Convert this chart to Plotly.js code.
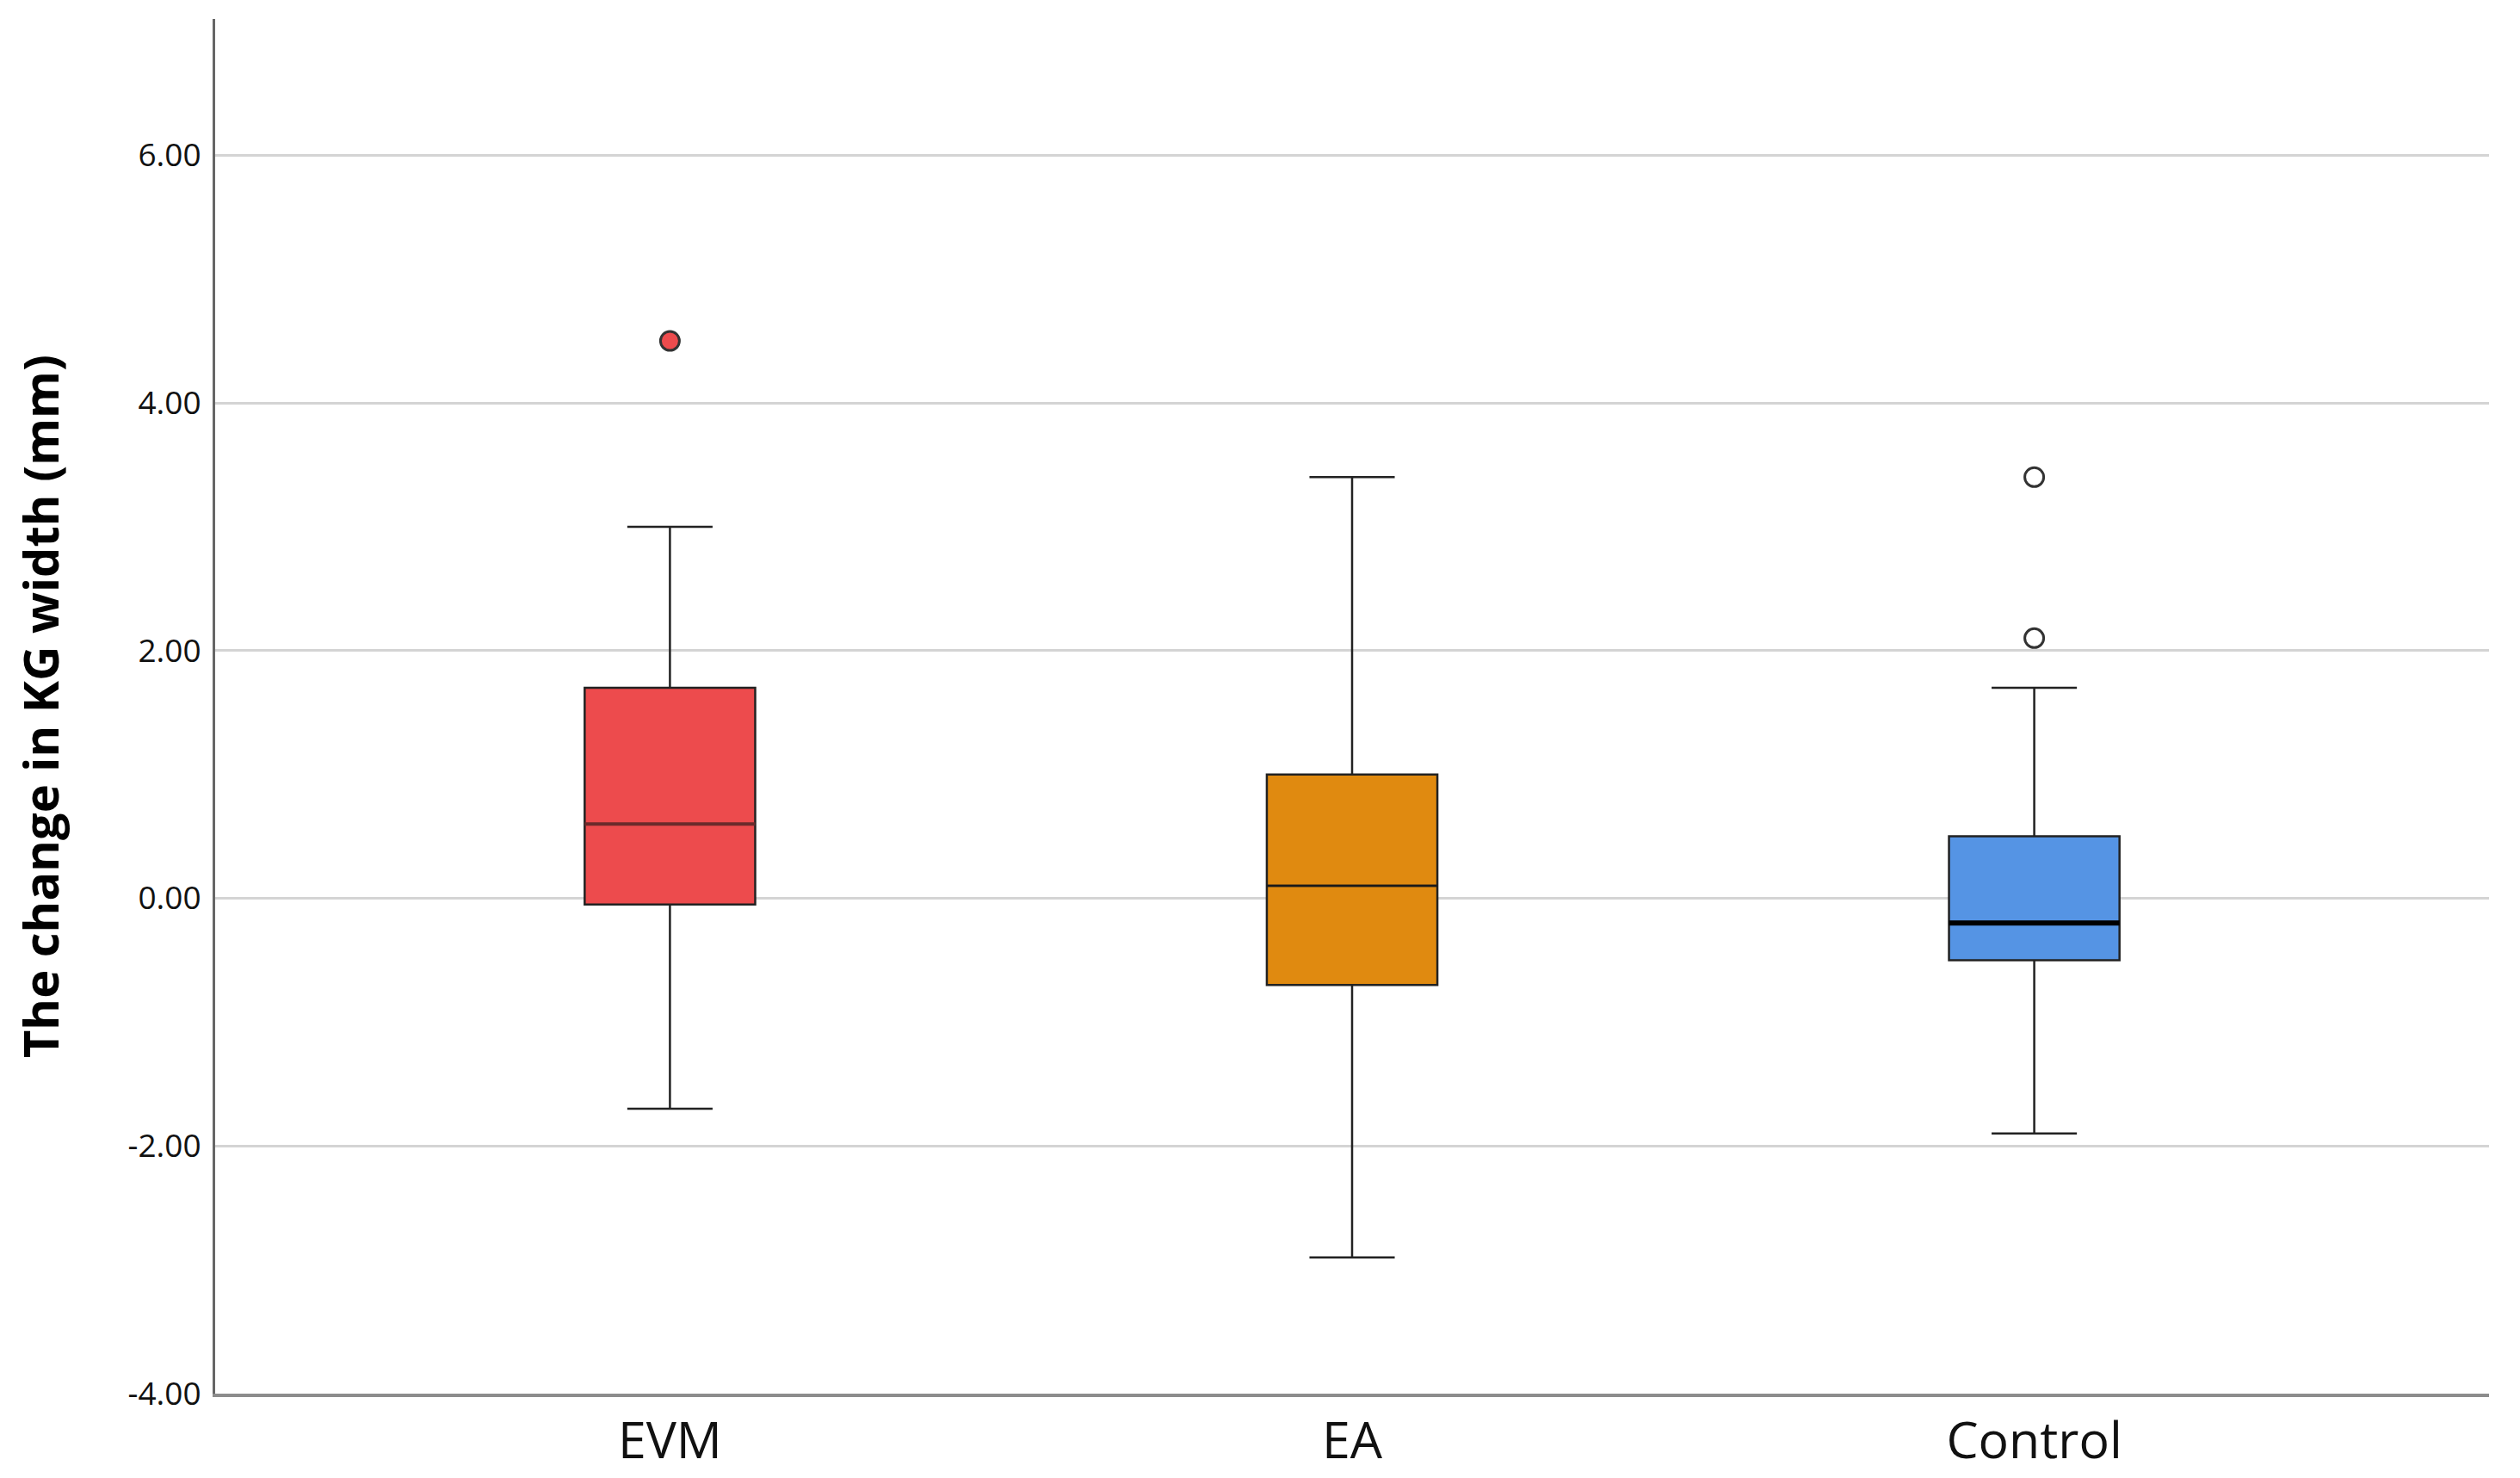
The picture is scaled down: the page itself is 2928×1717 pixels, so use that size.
<!DOCTYPE html>
<html>
<head>
<meta charset="utf-8">
<script src="https://cdn.plot.ly/plotly-3.0.1.min.js"></script>
<style>html,body{margin:0;padding:0;background:#fff;}#chart{width:2928px;height:1717px;}</style>
</head>
<body>
<div id="chart"></div>
<script>
// Data
const categories = ["EVM", "EA", "Control"];
const q1Values = [-0.05, -0.7, -0.5];
const medianValues = [0.6, 0.1, -0.2];
const q3Values = [1.7, 1.0, 0.5];
const lowerWhisker = [-1.7, -2.9, -1.9];
const upperWhisker = [3.0, 3.4, 1.7];
const outliersEVM = [4.5];
const outliersEA = [];
const outliersControl = [3.4, 2.1];
const boxColors = ["#ED4B4D", "#E08A10", "#5594E4"];
const medianColors = ["#6B2A2B", "#1a1a1a", "#000000"];
const medianWidths = [4, 2.5, 6];
const yTickValues = [-4, -2, 0, 2, 4, 6];
const yTickLabels = ["-4.00", "-2.00", "0.00", "2.00", "4.00", "6.00"];

const boxW = 0.25;
const traces = categories.map((c, i) => ({
  type: "box",
  x: [c],
  q1: [q1Values[i]],
  median: [medianValues[i]],
  q3: [q3Values[i]],
  lowerfence: [lowerWhisker[i]],
  upperfence: [upperWhisker[i]],
  width: boxW,
  whiskerwidth: 0.5,
  fillcolor: boxColors[i],
  line: {color: "#222222", width: 2.5},
  boxpoints: false,
  hoverinfo: "skip",
  showlegend: false
}));

const outlierSets = [outliersEVM, outliersEA, outliersControl];
const outlierFill = ["#ED4B4D", "#ffffff", "#ffffff"];
outlierSets.forEach((arr, i) => {
  if (!arr.length) return;
  traces.push({
    type: "scatter",
    mode: "markers",
    x: arr.map(() => categories[i]),
    y: arr,
    marker: {size: 22, color: outlierFill[i], line: {color: "#333333", width: 3}},
    hoverinfo: "skip",
    showlegend: false
  });
});

const shapes = categories.map((c, i) => ({
  type: "line",
  xref: "x", yref: "y",
  x0: i - boxW / 2, x1: i + boxW / 2,
  y0: medianValues[i], y1: medianValues[i],
  line: {color: medianColors[i], width: medianWidths[i]},
  layer: "above"
}));

const layout = {
  width: 2928,
  height: 1717,
  paper_bgcolor: "#ffffff",
  plot_bgcolor: "#ffffff",
  margin: {l: 250, r: 36, t: 22, b: 98},
  font: {family: "Open Sans, Noto Sans, sans-serif", color: "#111111"},
  xaxis: {
    type: "category",
    range: [-2/3, 2 + 2/3],
    showgrid: false,
    zeroline: false,
    showline: true,
    linecolor: "#8c8c8c",
    linewidth: 4,
    ticks: "",
    tickfont: {size: 59, color: "#111111"},
    fixedrange: true
  },
  yaxis: {
    range: [-4, 7.1],
    tickvals: yTickValues,
    ticktext: yTickLabels,
    showgrid: true,
    gridcolor: "#d4d4d4",
    gridwidth: 3,
    zeroline: false,
    showline: true,
    linecolor: "#666666",
    linewidth: 3,
    ticks: "",
    ticklen: 0,
    ticklabelstandoff: 6,
    tickfont: {size: 37, color: "#111111"},
    title: {text: "The change in KG width (mm)", font: {size: 56, color: "#000000", family: "Open Sans, sans-serif", weight: "bold"}, standoff: 62},
    fixedrange: true
  },
  shapes: shapes,
  hovermode: false,
  showlegend: false
};

Plotly.newPlot("chart", traces, layout, {staticPlot: true, displayModeBar: false});
</script>
</body>
</html>
